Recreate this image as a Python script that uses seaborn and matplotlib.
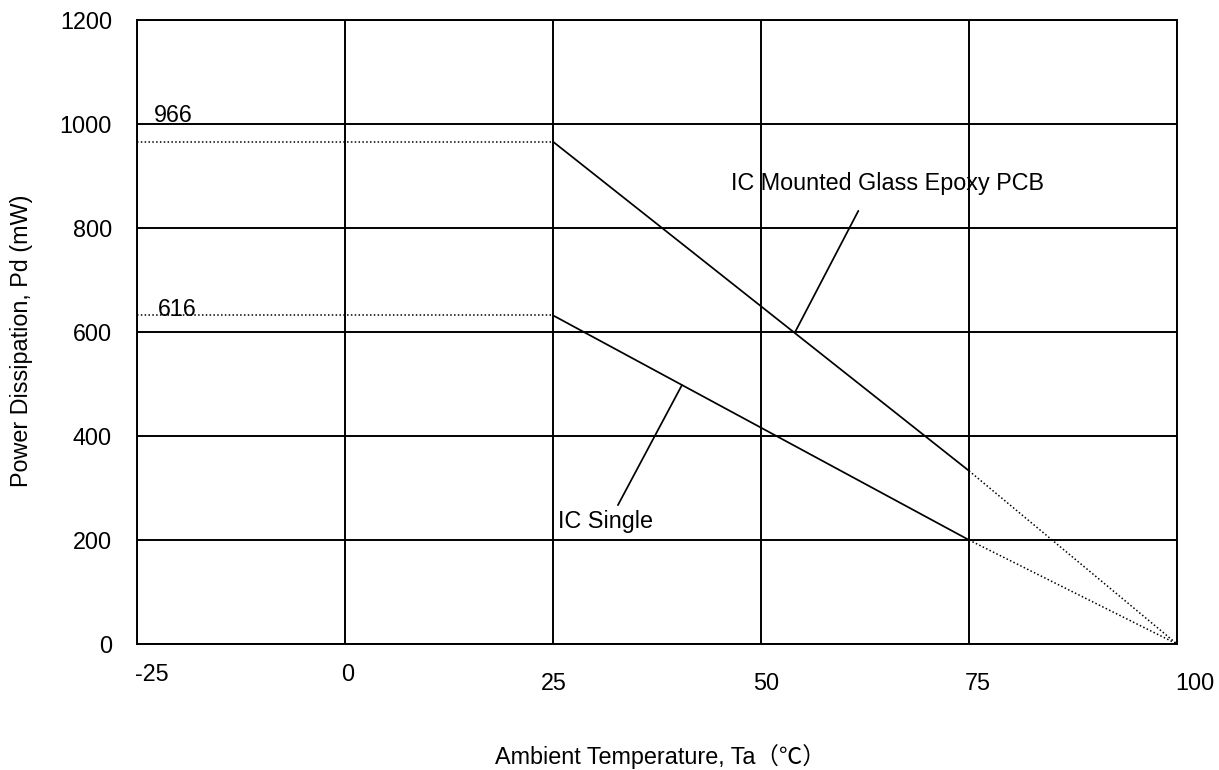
import matplotlib
matplotlib.use("Agg")
import matplotlib.pyplot as plt
import seaborn as sns
import pandas as pd

# ---- data ----
temps = [25, 75, 100]                 # Ambient temperature (°C)
pcb_mw = [966, 333, 0]                # IC Mounted Glass Epoxy PCB
single_mw = [632, 200, 0]             # IC Single
ref_temps = [-25, 25]                 # span of the dotted reference lines
ref_labels = ["966", "616"]
x_ticks = [-25, 0, 25, 50, 75, 100]
x_tick_labels = ["-25", "0", "25", "50", "75", "100"]
y_ticks = [0, 200, 400, 600, 800, 1000, 1200]
y_tick_labels = ["0", "200", "400", "600", "800", "1000", "1200"]
series_names = ["IC Mounted Glass Epoxy PCB", "IC Single"]
x_label = "Ambient Temperature, Ta（℃）"
y_label = "Power Dissipation, Pd (mW)"

sns.set_style("white")
plt.rcParams["font.family"] = ["Liberation Sans", "Noto Sans CJK JP", "DejaVu Sans"]
plt.rcParams["text.color"] = "black"
plt.rcParams["xtick.color"] = "black"
plt.rcParams["ytick.color"] = "black"
plt.rcParams["axes.labelcolor"] = "black"
FS = 16.8

fig = plt.figure(figsize=(12.19, 7.70), dpi=100)
ax = fig.add_axes([137 / 1219, 1 - 644 / 770, 1040 / 1219, 624 / 770])

LW_GRID = 1.4
LW_LINE = 1.25
DOT = (0, (1.0, 1.5))

for vals in (pcb_mw, single_mw):
    solid = pd.DataFrame({"t": temps[:2], "p": vals[:2]})
    dotted = pd.DataFrame({"t": temps[1:], "p": vals[1:]})
    ref = pd.DataFrame({"t": ref_temps, "p": [vals[0], vals[0]]})
    sns.lineplot(data=solid, x="t", y="p", ax=ax, color="black", lw=LW_LINE, zorder=3)
    sns.lineplot(data=dotted, x="t", y="p", ax=ax, color="black", lw=1.1, linestyle=DOT, zorder=3)
    sns.lineplot(data=ref, x="t", y="p", ax=ax, color="black", lw=1.1, linestyle=DOT, zorder=3)

ax.set_xlim(-25, 100)
ax.set_ylim(0, 1200)
ax.set_xticks(x_ticks)
ax.set_xticklabels([])
ax.set_yticks(y_ticks)
ax.set_yticklabels(y_tick_labels, fontsize=FS, color="black")
ax.tick_params(axis="both", length=0)
ax.tick_params(axis="y", pad=18)
ax.set_xlabel("")
ax.set_ylabel("")
ax.grid(True, color="black", lw=LW_GRID, zorder=1)
ax.set_axisbelow(True)
for s in ax.spines.values():
    s.set_color("black")
    s.set_linewidth(LW_GRID)

# x tick labels (placed individually, as in the reference)
x_offsets = [(15, -19), (3, -19), (1, -28), (5, -28), (9, -28), (18, -28)]
for t, lab, (dx, dy) in zip(x_ticks, x_tick_labels, x_offsets):
    ax.annotate(lab, xy=(t, 0), xycoords=("data", "axes fraction"),
                xytext=(dx, dy), textcoords="offset pixels",
                ha="center", va="top", fontsize=FS, color="black")

# value labels
ax.text(-22.96, 1004, ref_labels[0], fontsize=FS, ha="left", va="baseline", color="black")
ax.text(-22.5, 631, ref_labels[1], fontsize=FS, ha="left", va="baseline", color="black")

# series annotations with leader lines
ax.text(46.45, 873, series_names[0], fontsize=FS, ha="left", va="baseline", zorder=4, color="black")
sns.lineplot(x=[61.7, 54.1], y=[833, 600], ax=ax, color="black", lw=LW_LINE, sort=False, zorder=3)
ax.text(25.6, 223, series_names[1], fontsize=FS, ha="left", va="baseline", zorder=4, color="black")
sns.lineplot(x=[40.5, 32.8], y=[498, 267], ax=ax, color="black", lw=LW_LINE, sort=False, zorder=3)

fig.text(22 / 1219, 1 - 341 / 770, y_label, rotation=90, ha="center", va="center",
         fontsize=FS, color="black")
fig.text(660 / 1219, 1 - 764 / 770, x_label, ha="center", va="baseline",
         fontsize=FS, color="black")

fig.savefig("out.png", dpi=100, facecolor="white")
